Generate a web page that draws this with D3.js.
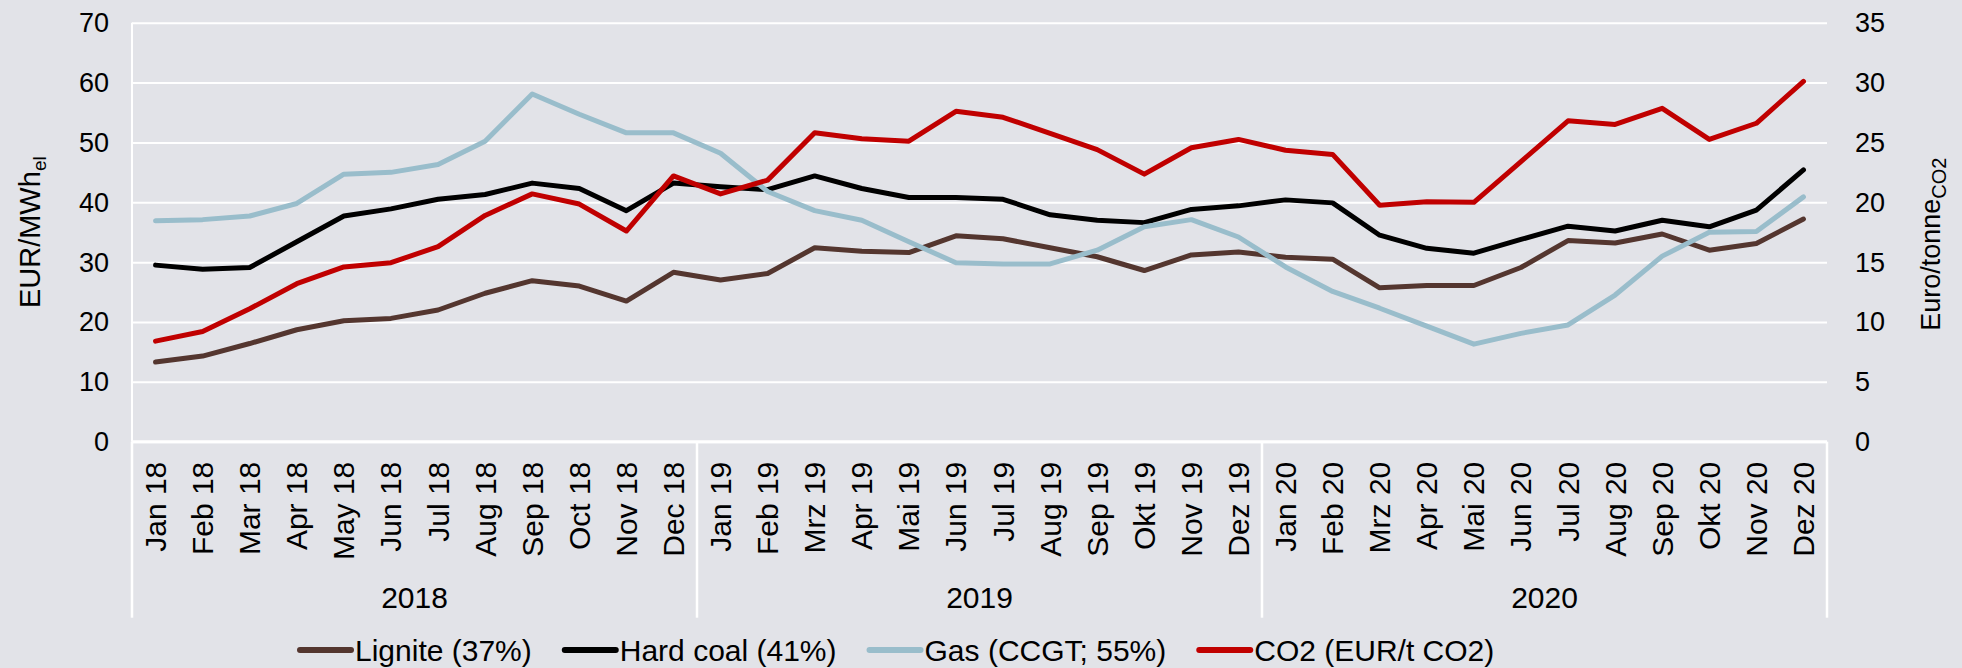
<!DOCTYPE html>
<html>
<head>
<meta charset="utf-8">
<script src="https://cdn.jsdelivr.net/npm/d3@7"></script>
<style>
  html, body { margin: 0; padding: 0; background: #e2e3e8; }
  #chart { width: 1962px; height: 668px; }
</style>
</head>
<body>
<div id="chart"></div>
<script>
// months on the x axis (German abbreviations from 2019 on, as in the source)
const months = [
    "Jan 18", "Feb 18", "Mar 18", "Apr 18", "May 18", "Jun 18", "Jul 18", "Aug 18", "Sep 18", "Oct 18", "Nov 18", "Dec 18",
    "Jan 19", "Feb 19", "Mrz 19", "Apr 19", "Mai 19", "Jun 19", "Jul 19", "Aug 19", "Sep 19", "Okt 19", "Nov 19", "Dez 19",
    "Jan 20", "Feb 20", "Mrz 20", "Apr 20", "Mai 20", "Jun 20", "Jul 20", "Aug 20", "Sep 20", "Okt 20", "Nov 20", "Dez 20"
];
const years = ["2018", "2019", "2020"];

// EUR/MWh_el (left axis)
const lignite = [13.3, 14.3, 16.4, 18.7, 20.2, 20.6, 22.0, 24.8, 26.9, 26.0, 23.5, 28.3,
    27.0, 28.1, 32.4, 31.8, 31.6, 34.4, 33.9, 32.4, 30.9, 28.6, 31.2, 31.7,
    30.8, 30.5, 25.7, 26.1, 26.1, 29.1, 33.6, 33.2, 34.7, 32.0, 33.1, 37.2];
const hardCoal = [29.5, 28.8, 29.1, 33.4, 37.7, 38.9, 40.5, 41.3, 43.2, 42.3, 38.6, 43.2,
    42.6, 42.1, 44.4, 42.3, 40.8, 40.8, 40.5, 37.9, 37.0, 36.6, 38.8, 39.4,
    40.4, 39.9, 34.5, 32.3, 31.5, 33.8, 36.0, 35.2, 37.0, 35.9, 38.7, 45.4];
const gas = [36.9, 37.1, 37.7, 39.8, 44.7, 45.0, 46.3, 50.2, 58.1, 54.7, 51.6, 51.6,
    48.2, 41.8, 38.6, 37.0, 33.4, 29.9, 29.7, 29.7, 32.0, 35.9, 37.1, 34.2,
    29.2, 25.1, 22.3, 19.3, 16.3, 18.1, 19.5, 24.5, 31.0, 35.0, 35.1, 40.9];
// Euro/tonne CO2 (right axis)
const co2 = [8.4, 9.2, 11.1, 13.2, 14.6, 14.95, 16.3, 18.9, 20.7, 19.85, 17.6, 22.2,
    20.7, 21.85, 25.8, 25.3, 25.1, 27.6, 27.1, 25.75, 24.4, 22.35, 24.55, 25.25,
    24.35, 24.0, 19.75, 20.05, 20.0, 23.4, 26.8, 26.5, 27.85, 25.25, 26.6, 30.1];

const leftTicks = [0, 10, 20, 30, 40, 50, 60, 70];
const rightTicks = [0, 5, 10, 15, 20, 25, 30, 35];

const series = [
    { name: "Lignite (37%)", values: lignite, axis: "left", color: "#54362f" },
    { name: "Hard coal (41%)", values: hardCoal, axis: "left", color: "#000000" },
    { name: "Gas (CCGT; 55%)", values: gas, axis: "left", color: "#99bdcb" },
    { name: "CO2 (EUR/t CO2)", values: co2, axis: "right", color: "#c00000" }
];

let div = document.getElementById("chart");
let divWidth = 1962, divHeight = 668;
let font = "'Liberation Sans', Arial, sans-serif";

let margin = { top: 22.7, left: 132, right: 135, bottom: 226.3 };
let width = divWidth - margin.left - margin.right;
let height = divHeight - margin.top - margin.bottom;

let svg = d3.select(div).append("svg")
    .attr("width", divWidth)
    .attr("height", divHeight)
    .style("font-family", font);

svg.append("rect")
    .attr("width", divWidth).attr("height", divHeight)
    .attr("fill", "#e2e3e8");

let g = svg.append("g").attr("transform", `translate(${margin.left},${margin.top})`);

let x = d3.scaleBand().domain(months).range([0, width]);
let y = d3.scaleLinear().domain([0, 70]).range([height, 0]);
let y2 = d3.scaleLinear().domain([0, 35]).range([height, 0]);

// gridlines
let gridlines = d3.axisLeft(y).tickValues(leftTicks).tickSize(-width).tickFormat("");
let grid = g.append("g").attr("class", "grid").call(gridlines);
grid.select(".domain").remove();
grid.selectAll("line").attr("stroke", "#ffffff").attr("stroke-width", 2);

// left axis line
g.append("line")
    .attr("x1", 0).attr("x2", 0)
    .attr("y1", 0).attr("y2", height)
    .attr("stroke", "#ffffff").attr("stroke-width", 2);

// category axis: baseline plus year separators
g.append("line")
    .attr("x1", 0).attr("x2", width)
    .attr("y1", height).attr("y2", height)
    .attr("stroke", "#ffffff").attr("stroke-width", 3);

let yearStarts = years.map((yr, i) => x(months[i * 12]));
yearStarts.push(width);
g.selectAll(".year-sep").data(yearStarts).enter()
    .append("line")
    .attr("class", "year-sep")
    .attr("x1", d => d).attr("x2", d => d)
    .attr("y1", height).attr("y2", height + 176)
    .attr("stroke", "#ffffff").attr("stroke-width", 2.5);

// left tick labels
g.selectAll(".ytick").data(leftTicks).enter()
    .append("text")
    .attr("x", -23)
    .attr("y", d => y(d))
    .attr("dy", "0.35em")
    .attr("text-anchor", "end")
    .attr("font-size", 27)
    .attr("fill", "#000")
    .text(d => d);

// right tick labels
g.selectAll(".y2tick").data(rightTicks).enter()
    .append("text")
    .attr("x", width + 28)
    .attr("y", d => y2(d))
    .attr("dy", "0.35em")
    .attr("text-anchor", "start")
    .attr("font-size", 27)
    .attr("fill", "#000")
    .text(d => d);

// month labels (rotated)
g.selectAll(".xtick").data(months).enter()
    .append("text")
    .attr("transform", d => `translate(${x(d) + x.bandwidth() / 2},${height + 20}) rotate(-90)`)
    .attr("dy", "0.35em")
    .attr("text-anchor", "end")
    .attr("font-size", 30)
    .attr("fill", "#000")
    .text(d => d);

// year labels
g.selectAll(".year").data(years).enter()
    .append("text")
    .attr("x", (d, i) => (yearStarts[i] + yearStarts[i + 1]) / 2)
    .attr("y", height + 166)
    .attr("text-anchor", "middle")
    .attr("font-size", 30)
    .attr("fill", "#000")
    .text(d => d);

// axis titles
let lt = svg.append("text")
    .attr("transform", `translate(40,${margin.top + height / 2}) rotate(-90)`)
    .attr("text-anchor", "middle")
    .attr("font-size", 29)
    .attr("fill", "#000");
lt.append("tspan").text("EUR/MWh");
lt.append("tspan").attr("font-size", 19).attr("dy", 6).text("el");

let rt = svg.append("text")
    .attr("transform", `translate(1940,${margin.top + height / 2 + 12}) rotate(-90)`)
    .attr("text-anchor", "middle")
    .attr("font-size", 27)
    .attr("fill", "#000");
rt.append("tspan").text("Euro/tonne");
rt.append("tspan").attr("font-size", 20).attr("dy", 6).text("CO2");

// lines
let lineL = d3.line().x((d, i) => x(months[i]) + x.bandwidth() / 2).y(d => y(d));
let lineR = d3.line().x((d, i) => x(months[i]) + x.bandwidth() / 2).y(d => y2(d));

g.selectAll(".series").data(series).enter()
    .append("path")
    .attr("class", "series")
    .attr("d", d => (d.axis === "left" ? lineL : lineR)(d.values))
    .attr("fill", "none")
    .attr("stroke", d => d.color)
    .attr("stroke-width", 5)
    .attr("stroke-linejoin", "round")
    .attr("stroke-linecap", "round");

// legend
let legend = svg.append("g").attr("class", "legend");
let lx = 300;
let legendY = 650;
series.forEach(s => {
    legend.append("line")
        .attr("x1", lx).attr("x2", lx + 51)
        .attr("y1", legendY).attr("y2", legendY)
        .attr("stroke", s.color)
        .attr("stroke-width", 6)
        .attr("stroke-linecap", "round");
    let t = legend.append("text")
        .attr("x", lx + 55)
        .attr("y", legendY)
        .attr("dy", "0.35em")
        .attr("font-size", 30)
        .attr("fill", "#000")
        .text(s.name);
    lx += 55 + t.node().getComputedTextLength() + 33;
});
</script>
</body>
</html>
